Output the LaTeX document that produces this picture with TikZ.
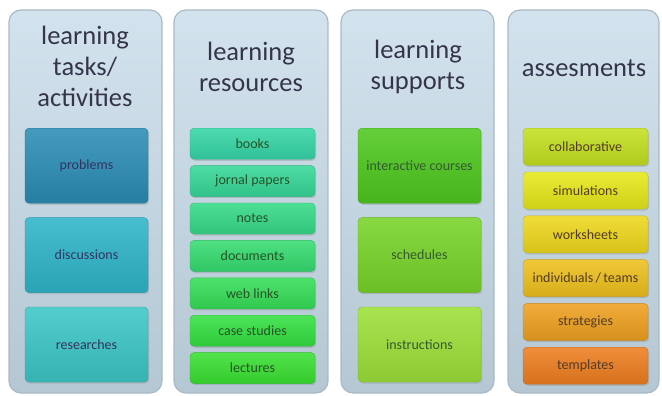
\documentclass[tikz,border=0pt]{standalone}
\usepackage{fontspec}
\setmainfont{Carlito}
\usetikzlibrary{positioning,shadows}

\definecolor{coltop}{HTML}{D3E3EE}
\definecolor{colbot}{HTML}{B4C7D3}
\definecolor{colline}{HTML}{A9BAC6}
\definecolor{headtext}{HTML}{35354A}
% box colours, column by column
\definecolor{ta}{HTML}{2A8DB5}
\definecolor{tb}{HTML}{2EB5C9}
\definecolor{tc}{HTML}{3CC6C6}
\definecolor{ra}{HTML}{36D6A6}
\definecolor{rb}{HTML}{36D898}
\definecolor{rc}{HTML}{36DA88}
\definecolor{rd}{HTML}{36DC70}
\definecolor{re}{HTML}{36DE58}
\definecolor{rf}{HTML}{34E042}
\definecolor{rg}{HTML}{3AE032}
\definecolor{sa}{HTML}{4EC81E}
\definecolor{sb}{HTML}{78D428}
\definecolor{sc}{HTML}{9CE038}
\definecolor{aa}{HTML}{C4E020}
\definecolor{ab}{HTML}{E6E81A}
\definecolor{ac}{HTML}{EED81C}
\definecolor{ad}{HTML}{EEC01C}
\definecolor{ae}{HTML}{EEA020}
\definecolor{af}{HTML}{EE7E20}

\begin{document}
\begin{tikzpicture}[x=1pt,y=-1pt,
    column/.style={rounded corners=12pt, draw=colline, line width=1.2pt,
      top color=coltop, bottom color=colbot, minimum height=383pt},
    head/.style={align=center, text=headtext, font=\fontsize{26.5}{31}\selectfont},
    item/.style={rounded corners=4pt, draw=#1!85!black, top color=#1!88!white,
      bottom color=#1!90!black, inner sep=0pt, font=\fontsize{14}{16}\selectfont,
      drop shadow={opacity=0.3, shadow xshift=1.2pt, shadow yshift=-1.6pt}},
    big/.style={item=#1, minimum width=123pt, minimum height=75pt, text=black!70!blue!60!gray},
    thin/.style={item=#1, minimum width=125pt, minimum height=31pt, text=black!75!green!70!gray},
    mid/.style={item=#1, minimum width=125pt, minimum height=37pt, text=black!75!orange!70!gray},
  ]
  \useasboundingbox (0,0) rectangle (662,396);

  % the four columns
  \node[column, minimum width=153pt] (c1) at (85.5,201.5) {};
  \node[column, minimum width=154pt] (c2) at (251,201.5) {};
  \node[column, minimum width=153pt] (c3) at (417.5,201.5) {};
  \node[column, minimum width=151pt] (c4) at (583.5,201.5) {};

  \node[head] (h1) at (85,66) {learning\\tasks/\\activities};
  \node[head] (h2) at (251,67) {learning\\resources};
  \node[head] (h3) at (418,67) {learning\\supports};
  \node[head] (h4) at (584,68) {assesments};

  % learning tasks
  \node[big=ta, anchor=north] (t1) at (86.5,128) {problems};
  \node[big=tb, below=14pt of t1] (t2) {discussions};
  \node[big=tc, below=14pt of t2] (t3) {researches};

  % learning resources
  \node[thin=ra, anchor=north] (r1) at (252.5,128) {books};
  \node[thin=rb, below=6pt of r1] (r2) {jornal papers};
  \node[thin=rc, below=6pt of r2] (r3) {notes};
  \node[thin=rd, below=6pt of r3] (r4) {documents};
  \node[thin=re, below=6pt of r4] (r5) {web links};
  \node[thin=rf, below=6pt of r5] (r6) {case studies};
  \node[thin=rg, below=6pt of r6] (r7) {lectures};

  % learning supports
  \node[big=sa, anchor=north, text=black!75!green!60!gray] (s1) at (419.5,128) {interactive courses};
  \node[big=sb, below=14pt of s1, text=black!75!green!60!gray] (s2) {schedules};
  \node[big=sc, below=14pt of s2, text=black!75!green!60!gray] (s3) {instructions};

  % assesments
  \node[mid=aa, anchor=north] (a1) at (585.5,128) {collaborative};
  \node[mid=ab, below=6.4pt of a1] (a2) {simulations};
  \node[mid=ac, below=6.4pt of a2] (a3) {worksheets};
  \node[mid=ad, below=6.4pt of a3] (a4) {individuals\,/\,teams};
  \node[mid=ae, below=6.4pt of a4] (a5) {strategies};
  \node[mid=af, below=6.4pt of a5] (a6) {templates};
\end{tikzpicture}
\end{document}
